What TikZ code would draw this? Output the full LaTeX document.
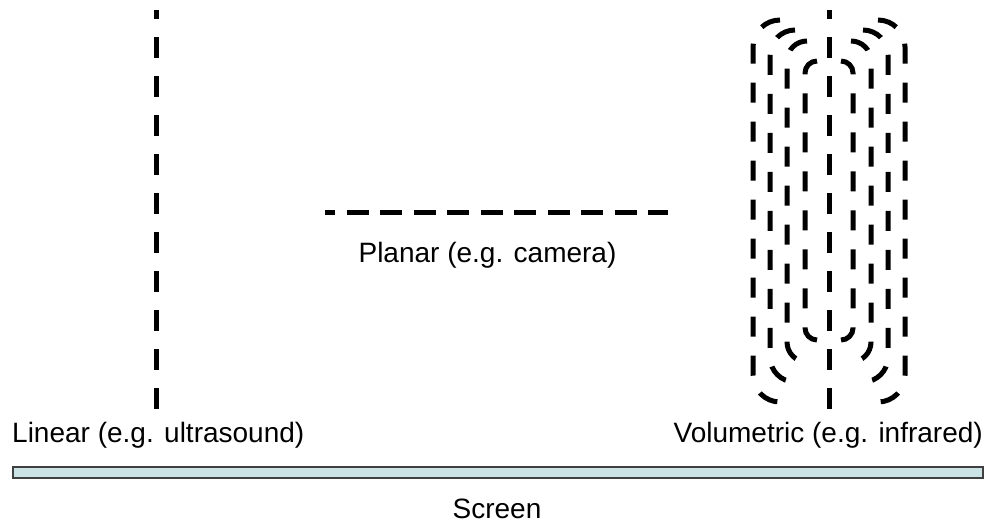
\documentclass[tikz,border=0pt]{standalone}
\usepackage{fontspec}
\setmainfont{Liberation Sans}
\usetikzlibrary{positioning}
\definecolor{screenfill}{RGB}{204,227,229}
\definecolor{screenline}{RGB}{64,64,64}
\tikzset{
    scanv/.style = {line width=5pt, dash pattern=on 21pt off 18pt, dash phase=12pt},
    scanh/.style = {line width=5pt, dash pattern=on 22pt off 11.5pt, dash phase=12pt},
    shell/.style = {line width=5pt, dash pattern=on 20pt off 19pt},
    mytext/.style = {inner sep=0pt, font=\fontsize{28}{34}\selectfont},
    screenbar/.style = {rectangle, draw=screenline, fill=screenfill, line width=1.5pt, inner sep=0pt}
}
\begin{document}
\begin{tikzpicture}[x=1pt,y=-1pt]
\useasboundingbox (0,0) rectangle (995,523);
%
\draw[scanv] (156,10) -- (156,412); % linear
\draw[scanh] (325,212) -- (668,212); % planar
\draw[scanv] (829,10) -- (829,412); % volumetric
%
\draw[shell,rounded corners=27pt] (780,20) -- (753,20) -- (753,402) -- (780,402);
\draw[shell,rounded corners=25pt] (795,30) -- (770,30) -- (770,382) -- (795,382);
\draw[shell,rounded corners=20pt] (807,41) -- (787,41) -- (787,362) -- (807,362);
\draw[shell,rounded corners=12pt] (817,61) -- (805,61) -- (805,340) -- (817,340);
\draw[shell,rounded corners=27pt] (878,20) -- (905,20) -- (905,402) -- (878,402);
\draw[shell,rounded corners=25pt] (863,30) -- (888,30) -- (888,382) -- (863,382);
\draw[shell,rounded corners=20pt] (851,41) -- (871,41) -- (871,362) -- (851,362);
\draw[shell,rounded corners=12pt] (841,61) -- (853,61) -- (853,340) -- (841,340);
%
\node[mytext, anchor=base west] at (12,442) (lin) {Linear (e.g. ultrasound)};
\node[mytext, anchor=base] at (487.5,262) (pla) {Planar (e.g. camera)};
\node[mytext, anchor=base east] at (983,442) (vol) {Volumetric (e.g. infrared)};
\node[screenbar, minimum width=970pt, minimum height=11pt, anchor=north west] at (12,466) (scr) {};
\node[mytext, anchor=base] at (497,518) (scrtext) {Screen};
\end{tikzpicture}
\end{document}
